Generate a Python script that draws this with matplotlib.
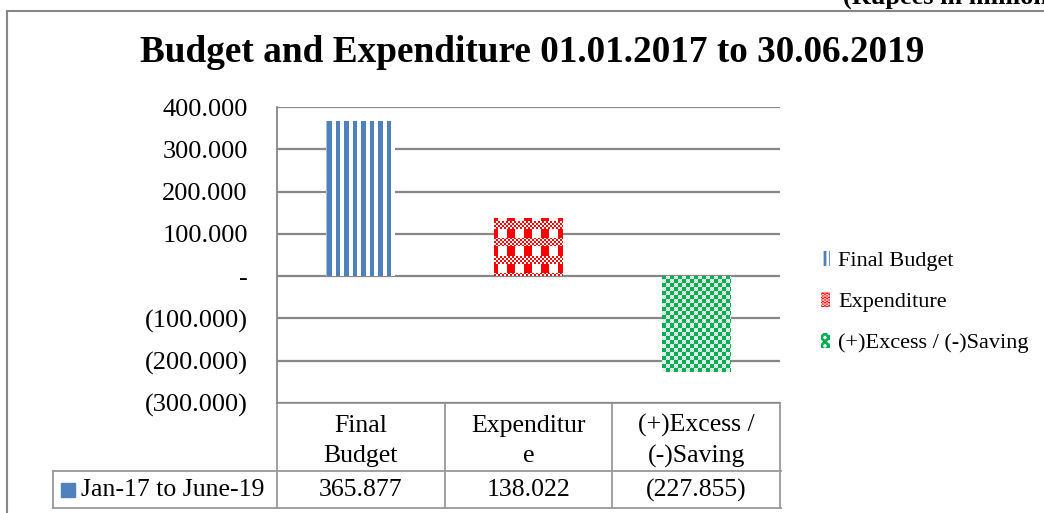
import numpy as np
import matplotlib
matplotlib.use('Agg')
import matplotlib.pyplot as plt
from matplotlib.patches import Patch
from matplotlib.transforms import blended_transform_factory

# data
categories = ['Final Budget', 'Expenditure', '(+)Excess / (-)Saving']
table_headers = ['Final\nBudget', 'Expenditur\ne', '(+)Excess /\n(-)Saving']
series_name = 'Jan-17 to June-19'
values = [365.877, 138.022, -227.855]
yticks = [400, 300, 200, 100, 0, -100, -200, -300]

title = 'Budget and Expenditure 01.01.2017 to 30.06.2019'
unit_note = '(Rupees in million)'

colors = ['#4F81BD', '#FF0000', '#00B050']

plt.rcParams['font.family'] = ['Liberation Serif', 'DejaVu Serif']
GRAY = '#878787'


def money(v):
    if v == 0:
        return '-'
    if v < 0:
        return '(%.3f)' % abs(v)
    return '%.3f' % v


def hex_rgb(c):
    return np.array([int(c[i:i + 2], 16) for i in (1, 3, 5)]) / 255.0


def pattern(kind, h, w, color):
    # pixel fill pattern like the office chart fills
    yy, xx = np.mgrid[0:h, 0:w]
    img = np.ones((h, w, 3))
    col = hex_rgb(color)
    if kind == 'stripes':
        on = ((xx + 0.5 - 1.5) % 8.5) < 4.3
        img[on] = col
        img[:, :1] = 0.5 * col + 0.5
    elif kind == 'plaid':
        band = ((yy + 13) % 17) < 8
        fine = ((xx // 2 + yy // 2) % 2 == 0)
        cols = ((xx + 13) % 17) >= 9
        on = (band & fine) | (~band & cols)
        img[on] = col
    else:
        on = ((xx // 4 + yy // 4) % 2 == 0)
        img[on] = col
        img[~on & ((xx + yy) % 2 == 0)] = 0.25 * col + 0.75
    return img


W, H = 1044, 513
fig = plt.figure(figsize=(W / 100, H / 100), dpi=100)

# overlay in pixel coords (y down)
ov = fig.add_axes([0, 0, 1, 1], zorder=-1)
ov.set_xlim(0, W)
ov.set_ylim(H, 0)
ov.axis('off')

# plot area
x0, x1, ytop, ybot = 277, 780, 107, 403
ax = fig.add_axes([x0 / W, 1 - ybot / H, (x1 - x0) / W, (ybot - ytop) / H])
xlim = (-0.5, len(values) - 0.5)
ylim = (-300, 400)
ax.set_xlim(*xlim)
ax.set_ylim(*ylim)
ax.set_yticks(yticks)
ax.set_yticklabels([money(t) for t in yticks], fontsize=19)
ax.tick_params(axis='y', length=0, pad=21)
ax.set_xticks([])
for s in ['top', 'right', 'bottom']:
    ax.spines[s].set_visible(False)
ax.spines['left'].set_color(GRAY)
ax.spines['left'].set_linewidth(1.3)
ax.grid(axis='y', color=GRAY, linewidth=1.6)
ax.set_axisbelow(True)

kinds = ['stripes', 'plaid', 'checker']
bars = ax.bar(range(len(values)), values, width=0.41, facecolor='none', linewidth=0, zorder=3)
for b, k, c in zip(bars, kinds, colors):
    bx0, by0 = b.get_x(), b.get_y()
    bx1, by1 = bx0 + b.get_width(), by0 + b.get_height()
    lo, hi = min(by0, by1), max(by0, by1)
    p0 = ax.transData.transform((bx0, lo))
    p1 = ax.transData.transform((bx1, hi))
    wpx = int(round(abs(p1[0] - p0[0])))
    hpx = int(round(abs(p1[1] - p0[1])))
    im = ax.imshow(pattern(k, hpx, wpx, c), extent=(bx0, bx1, lo, hi), origin='upper',
                   aspect='auto', interpolation='nearest', zorder=3)
    im.set_clip_path(b)
ax.set_xlim(*xlim)
ax.set_ylim(*ylim)

handles = [
    Patch(facecolor='white', edgecolor=colors[0], hatch='|||', linewidth=0, label=categories[0]),
    Patch(facecolor=colors[1], edgecolor='white', hatch='....', linewidth=0, label=categories[1]),
    Patch(facecolor='white', edgecolor=colors[2], hatch='xxxx', linewidth=0, label=categories[2]),
]
with plt.rc_context({'hatch.linewidth': 2.0}):
    leg = fig.legend(handles=handles, loc='center left', bbox_to_anchor=(810 / W, 1 - 302 / H),
                     frameon=False, fontsize=16, handlelength=0.42, handleheight=0.65,
                     handletextpad=0.35, labelspacing=0.93, borderpad=0)

# title and unit note
ov.text(532, 53, title, ha='center', va='center', fontsize=26.8, fontweight='bold')
ov.text(843, 4, unit_note, ha='left', va='baseline', fontsize=19, fontweight='bold')

# outer border
ov.plot([7, 7], [11, H], color=GRAY, lw=1.5, clip_on=False)
ov.plot([7, W], [11, 11], color=GRAY, lw=1.5, clip_on=False)

# data table under the plot
tr = blended_transform_factory(ax.transData, ov.transData)
row_top, row_mid, row_bot = 403, 471, 508
edges = [i - 0.5 for i in range(len(values) + 1)]
tc = '#999999'
line_kw = dict(transform=tr, color=tc, lw=1.3, clip_on=False)
ov.plot([edges[0], edges[-1]], [row_top, row_top], **line_kw)
for e in edges:
    ov.plot([e, e], [row_top, row_bot], **line_kw)
ov.plot([53, x1 + 1], [row_mid, row_mid], color=tc, lw=1.3, clip_on=False)
ov.plot([53, x1 + 1], [row_bot, row_bot], color=tc, lw=1.3, clip_on=False)
ov.plot([53, 53], [row_mid, row_bot], color=tc, lw=1.3, clip_on=False)

for i, (hd, v) in enumerate(zip(table_headers, values)):
    ov.text(i, (row_top + row_mid) / 2 + 4, hd, transform=tr, ha='center', va='center',
            fontsize=18.5, linespacing=1.42)
    ov.text(i, (row_mid + row_bot) / 2 + 1, money(v), transform=tr, ha='center', va='center',
            fontsize=18.5)

ov.add_patch(plt.Rectangle((61, 483), 14, 14, color=colors[0]))
ov.text(81, (row_mid + row_bot) / 2 + 1, series_name, ha='left', va='center', fontsize=18.5)

fig.savefig('out.png', dpi=100)
